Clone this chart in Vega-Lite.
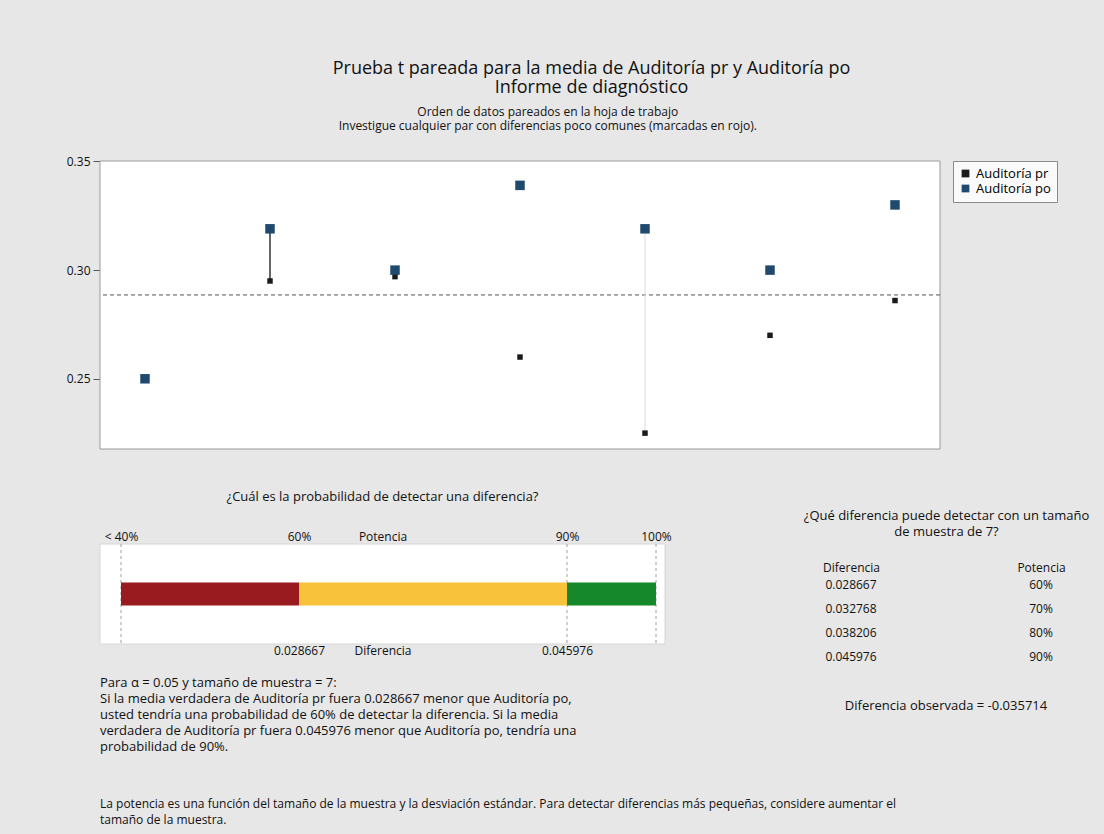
{
  "$schema": "https://vega.github.io/schema/vega-lite/v6.json",
  "background": "#e7e7e7",
  "padding": {"left": 38, "top": 60, "right": 10, "bottom": 10},
  "config": {
    "font": "Open Sans",
    "view": {"stroke": null},
    "axis": {"labelColor": "#111111", "titleColor": "#111111"},
    "title": {"color": "#111111", "fontWeight": "normal"}
  },
  "title": {
    "text": ["Prueba t pareada para la media de Auditoría pr y Auditoría po", "Informe de diagnóstico"],
    "fontSize": 18, "lineHeight": 19, "anchor": "middle", "offset": 9, "fontWeight": "normal"
  },
  "resolve": {"scale": {"color": "independent"}},
  "spacing": 41,
  "vconcat": [
    {
      "width": 840,
      "height": 288,
      "title": {
        "text": ["Orden de datos pareados en la hoja de trabajo", "Investigue cualquier par con diferencias poco comunes (marcadas en rojo)."],
        "fontSize": 12, "lineHeight": 14, "offset": 22, "anchor": "middle", "frame": "bounds", "fontWeight": "normal"
      },
      "layer": [
        {
          "data": {"values": [{"zona": "área de trazado"}]},
          "mark": {"type": "rect", "fill": "#ffffff", "stroke": "#9a9a9a", "strokeWidth": 1},
          "encoding": {}
        },
        {
          "data": {"values": [{"media": 0.28857}]},
          "mark": {"type": "rule", "strokeDash": [4, 3], "color": "#555555", "strokeWidth": 1},
          "encoding": {
            "y": {
              "field": "media", "type": "quantitative",
              "axis": {"values": [0.25, 0.3, 0.35], "format": ".2f", "title": null, "grid": false, "domain": false, "tickSize": 7, "tickColor": "#555555", "labelFontSize": 12, "labelPadding": 3, "minExtent": 62, "maxExtent": 62}
            }
          }
        },
        {
          "data": {"values": [
            {"par": 2, "valor": 0.295},
            {"par": 2, "valor": 0.319}
          ]},
          "mark": {"type": "line", "color": "#333333", "strokeWidth": 1.5},
          "encoding": {
            "x": {"field": "par", "type": "quantitative", "axis": null},
            "y": {
              "field": "valor", "type": "quantitative",
              "axis": {"values": [0.25, 0.3, 0.35], "format": ".2f", "title": null, "grid": false, "domain": false, "tickSize": 7, "tickColor": "#555555", "labelFontSize": 12, "labelPadding": 3, "minExtent": 62, "maxExtent": 62}
            }
          }
        },
        {
          "data": {"values": [
            {"par": 5, "valor": 0.225},
            {"par": 5, "valor": 0.319}
          ]},
          "mark": {"type": "line", "color": "#dcdcdc", "strokeWidth": 1},
          "encoding": {
            "x": {"field": "par", "type": "quantitative", "axis": null},
            "y": {
              "field": "valor", "type": "quantitative",
              "axis": {"values": [0.25, 0.3, 0.35], "format": ".2f", "title": null, "grid": false, "domain": false, "tickSize": 7, "tickColor": "#555555", "labelFontSize": 12, "labelPadding": 3, "minExtent": 62, "maxExtent": 62}
            }
          }
        },
        {
          "data": {"values": [
            {"par": 1, "muestra": "Auditoría pr", "valor": 0.250},
            {"par": 2, "muestra": "Auditoría pr", "valor": 0.295},
            {"par": 3, "muestra": "Auditoría pr", "valor": 0.297},
            {"par": 4, "muestra": "Auditoría pr", "valor": 0.260},
            {"par": 5, "muestra": "Auditoría pr", "valor": 0.225},
            {"par": 6, "muestra": "Auditoría pr", "valor": 0.270},
            {"par": 7, "muestra": "Auditoría pr", "valor": 0.286}
          ]},
          "mark": {"type": "point", "filled": true, "shape": "square", "opacity": 1, "size": 30},
          "encoding": {
            "x": {"field": "par", "type": "quantitative", "scale": {"domain": [0.64, 7.36], "nice": false, "zero": false}, "axis": null},
            "y": {
              "field": "valor", "type": "quantitative",
              "scale": {"domain": [0.2177, 0.3502], "nice": false, "zero": false},
              "axis": {"values": [0.25, 0.3, 0.35], "format": ".2f", "title": null, "grid": false, "domain": false, "tickSize": 7, "tickColor": "#555555", "labelFontSize": 12, "labelPadding": 3, "minExtent": 62, "maxExtent": 62}
            },
            "color": {
              "field": "muestra", "type": "nominal",
              "scale": {"domain": ["Auditoría pr", "Auditoría po"], "range": ["#1a1a1a", "#1f4a6e"]},
              "legend": {"title": null, "orient": "right", "offset": 13, "padding": 6, "strokeColor": "#8a8a8a", "fillColor": "#fafafa", "labelFontSize": 13, "symbolType": "square", "symbolSize": 60, "rowPadding": 1}
            }
          }
        },
        {
          "data": {"values": [
            {"par": 1, "muestra": "Auditoría po", "valor": 0.250},
            {"par": 2, "muestra": "Auditoría po", "valor": 0.319},
            {"par": 3, "muestra": "Auditoría po", "valor": 0.300},
            {"par": 4, "muestra": "Auditoría po", "valor": 0.339},
            {"par": 5, "muestra": "Auditoría po", "valor": 0.319},
            {"par": 6, "muestra": "Auditoría po", "valor": 0.300},
            {"par": 7, "muestra": "Auditoría po", "valor": 0.330}
          ]},
          "mark": {"type": "point", "filled": true, "shape": "square", "opacity": 1, "size": 90},
          "encoding": {
            "x": {"field": "par", "type": "quantitative", "axis": null},
            "y": {
              "field": "valor", "type": "quantitative",
              "axis": {"values": [0.25, 0.3, 0.35], "format": ".2f", "title": null, "grid": false, "domain": false, "tickSize": 7, "tickColor": "#555555", "labelFontSize": 12, "labelPadding": 3, "minExtent": 62, "maxExtent": 62}
            },
            "color": {"field": "muestra", "type": "nominal"}
          }
        }
      ]
    },
    {
      "spacing": 84,
      "hconcat": [
        {
          "spacing": 19,
          "vconcat": [
            {
              "width": 565,
              "height": 100,
              "title": {"text": "¿Cuál es la probabilidad de detectar una diferencia?", "fontSize": 13, "fontWeight": "normal", "offset": 26, "anchor": "middle"},
              "resolve": {"axis": {"x": "independent"}},
              "layer": [
                {
                  "data": {"values": [{"medida": "Potencia"}]},
                  "mark": {"type": "rect", "fill": "#ffffff", "stroke": "#d6d6d6", "strokeWidth": 1},
                  "encoding": {
                    "y": {"field": "medida", "type": "nominal", "axis": null, "scale": {"paddingInner": 0, "paddingOuter": 0}}
                  }
                },
                {
                  "data": {"values": [
                    {"potencia": "< 40%", "diferencia": 0.017171},
                    {"potencia": "90%", "diferencia": 0.045976},
                    {"potencia": "100%", "diferencia": 0.051724}
                  ]},
                  "mark": {"type": "rule", "strokeDash": [3, 3], "color": "#a0a0a0"},
                  "encoding": {
                    "x": {
                      "field": "diferencia", "type": "quantitative",
                      "scale": {"domain": [0.015815, 0.052305], "nice": false, "zero": false},
                      "axis": {
                        "orient": "top", "values": [0.017171, 0.028667, 0.045976, 0.051724],
                        "labelExpr": "datum.value < 0.02 ? '< 40%' : datum.value < 0.03 ? '60%' : datum.value < 0.05 ? '90%' : '100%'",
                        "title": "Potencia", "titleY": -1, "titleBaseline": "bottom", "titleFontWeight": "normal", "titleFontSize": 12,
                        "labelFontSize": 12, "labelPadding": 1, "ticks": false, "domain": false, "grid": false
                      }
                    }
                  }
                },
                {
                  "data": {"values": [
                    {"desde": 0.017171, "hasta": 0.028667, "nivel": "< 60%", "medida": "Potencia"},
                    {"desde": 0.028667, "hasta": 0.045976, "nivel": "60% - 90%", "medida": "Potencia"},
                    {"desde": 0.045976, "hasta": 0.051724, "nivel": "> 90%", "medida": "Potencia"}
                  ]},
                  "mark": {"type": "bar", "height": 23},
                  "encoding": {
                    "x": {
                      "field": "desde", "type": "quantitative",
                      "axis": {
                        "orient": "bottom", "values": [0.028667, 0.045976], "format": ".6f",
                        "title": "Diferencia", "titleY": 1, "titleBaseline": "top", "titleFontWeight": "normal", "titleFontSize": 12,
                        "labelFontSize": 12, "labelPadding": 1, "ticks": false, "domain": false, "grid": false
                      }
                    },
                    "x2": {"field": "hasta"},
                    "y": {"field": "medida", "type": "nominal", "axis": null},
                    "color": {
                      "field": "nivel", "type": "nominal",
                      "scale": {"domain": ["< 60%", "60% - 90%", "> 90%"], "range": ["#9a1b1f", "#f8c33b", "#14882b"]},
                      "legend": null
                    }
                  }
                }
              ]
            },
            {
              "width": 565,
              "height": 80,
              "data": {"values": [
                {"linea": 1, "texto": "Para α = 0.05 y tamaño de muestra = 7:"},
                {"linea": 2, "texto": "Si la media verdadera de Auditoría pr fuera 0.028667 menor que Auditoría po,"},
                {"linea": 3, "texto": "usted tendría una probabilidad de 60% de detectar la diferencia. Si la media"},
                {"linea": 4, "texto": "verdadera de Auditoría pr fuera 0.045976 menor que Auditoría po, tendría una"},
                {"linea": 5, "texto": "probabilidad de 90%."}
              ]},
              "mark": {"type": "text", "align": "left", "baseline": "middle", "fontSize": 13, "color": "#111111"},
              "encoding": {
                "x": {"datum": 0, "type": "quantitative", "scale": {"domain": [0, 1]}, "axis": null},
                "y": {"field": "linea", "type": "ordinal", "axis": null},
                "text": {"field": "texto"}
              }
            }
          ]
        },
        {
          "width": 380,
          "height": 120,
          "data": {"values": [
            {"columna": "Diferencia", "potencia": "60%", "texto": "0.028667"},
            {"columna": "Diferencia", "potencia": "70%", "texto": "0.032768"},
            {"columna": "Diferencia", "potencia": "80%", "texto": "0.038206"},
            {"columna": "Diferencia", "potencia": "90%", "texto": "0.045976"},
            {"columna": "Potencia", "potencia": "60%", "texto": "60%"},
            {"columna": "Potencia", "potencia": "70%", "texto": "70%"},
            {"columna": "Potencia", "potencia": "80%", "texto": "80%"},
            {"columna": "Potencia", "potencia": "90%", "texto": "90%"}
          ]},
          "title": {"text": "Diferencia observada = -0.035714", "orient": "bottom", "fontSize": 13, "fontWeight": "normal", "offset": 36, "anchor": "middle"},
          "mark": {"type": "text", "fontSize": 12, "color": "#111111"},
          "encoding": {
            "x": {
              "field": "columna", "type": "nominal",
              "scale": {"domain": ["Diferencia", "Potencia"]},
              "axis": {
                "orient": "top", "labelAngle": 0, "labelFontSize": 12, "labelPadding": -30, "ticks": false, "domain": false,
                "title": ["¿Qué diferencia puede detectar con un tamaño", "de muestra de 7?"],
                "titleFontSize": 13, "titleFontWeight": "normal", "titleLineHeight": 16, "titlePadding": 6
              }
            },
            "y": {"field": "potencia", "type": "ordinal", "axis": null, "scale": {"padding": 1.8333, "align": 0.8636}},
            "text": {"field": "texto"}
          }
        }
      ]
    },
    {
      "width": 1045,
      "height": 32,
      "data": {"values": [
        {"linea": 1, "texto": "La potencia es una función del tamaño de la muestra y la desviación estándar. Para detectar diferencias más pequeñas, considere aumentar el"},
        {"linea": 2, "texto": "tamaño de la muestra."}
      ]},
      "mark": {"type": "text", "align": "left", "baseline": "middle", "fontSize": 12, "color": "#111111"},
      "encoding": {
        "x": {"datum": 0, "type": "quantitative", "scale": {"domain": [0, 1]}, "axis": null},
        "y": {"field": "linea", "type": "ordinal", "axis": null},
        "text": {"field": "texto"}
      }
    }
  ]
}
